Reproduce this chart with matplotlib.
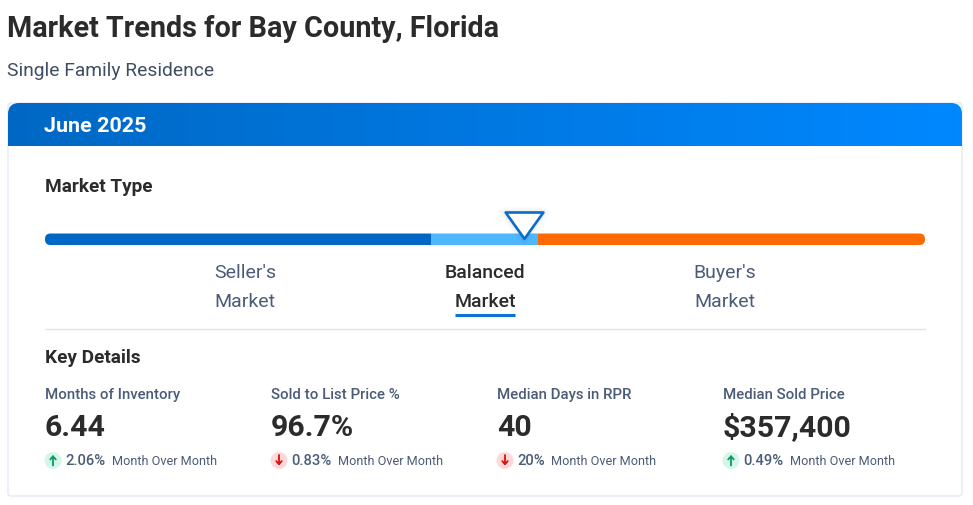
import numpy as np
import matplotlib
matplotlib.use('Agg')
import matplotlib.pyplot as plt
from matplotlib.colors import LinearSegmentedColormap
from matplotlib.markers import MarkerStyle
from matplotlib.patches import FancyBboxPatch, Circle
from matplotlib.path import Path

# market scale, 0-100 along the bar
segment_names = ["Seller's\nMarket", "Balanced\nMarket", "Buyer's\nMarket"]
segment_edges = [0, 43.9, 56.0, 100]
segment_colors = ['#0068c4', '#4db8ff', '#ff6a00']
segment_label_x = [245, 485, 725]
market_position = 54.4

metric_names = ['Months of Inventory', 'Sold to List Price %', 'Median Days in RPR', 'Median Sold Price']
metric_values = ['6.44', '96.7%', '40', '$357,400']
changes = ['2.06%', '0.83%', '20%', '0.49%']
directions = ['up', 'down', 'down', 'up']
metric_x = [45, 271, 497, 723]
month_offset = [67, 67, 54, 67]

DARK = '#2b2b2b'
SLATE = '#4b5c78'

plt.rcParams['font.family'] = ['Roboto', 'DejaVu Sans']


def px(size):
    # css pixels to points
    return size * 0.72


def set_limits(a):
    a.set_xlim(0, 973)
    a.set_ylim(505, -1)


fig = plt.figure(figsize=(9.73, 5.06), dpi=100)
ax = fig.add_axes([0, 0, 1, 1])
set_limits(ax)
ax.axis('off')

ax.text(7, 28, 'Market Trends for Bay County, Florida', fontsize=px(28.7), fontweight='bold',
        color=DARK, va='center')
ax.text(7, 70, 'Single Family Residence', fontsize=px(19.3), color='#3f4d63', va='center')

# card outline
card = FancyBboxPatch((8, 103), 954, 393, boxstyle='round,pad=0,rounding_size=3',
                      fc='white', ec='#e3e9f4', lw=1)
ax.add_patch(card)

# header with gradient
cmap = LinearSegmentedColormap.from_list('header', ['#0068c4', '#0088ff'])
grad = np.linspace(0, 1, 256).reshape(1, -1)
header = ax.imshow(grad, extent=(8, 962, 146, 103), cmap=cmap, aspect='auto', zorder=2)
clip = FancyBboxPatch((8, 103), 954, 70, boxstyle='round,pad=0,rounding_size=11',
                      transform=ax.transData, fc='none', ec='none')
ax.add_patch(clip)
header.set_clip_path(clip)
set_limits(ax)
ax.text(44, 125, 'June 2025', fontsize=px(21.5), fontweight='bold', color='white', va='center', zorder=3)

ax.text(45, 186, 'Market Type', fontsize=px(19), fontweight='bold', color=DARK, va='center')

# market bar on its own axes so the scale does the positions
bar_ax = fig.add_axes([45 / 973, 1 - 246 / 506, 880 / 973, 12 / 506])
bar_ax.set_xlim(0, 100)
bar_ax.set_ylim(0, 1)
bar_ax.axis('off')
bar_clip = FancyBboxPatch((45, 233.5), 880, 11.5, boxstyle='round,pad=0,rounding_size=5.5',
                          transform=ax.transData, fc='none', ec='none')
ax.add_patch(bar_clip)
lefts = segment_edges[:-1]
widths = np.diff(segment_edges)
bars = bar_ax.barh([0.5] * 3, widths, left=lefts, height=1, color=segment_colors, linewidth=0)
for b in bars:
    b.set_clip_path(bar_clip)

# pointer, tip on the market position
tri = Path([(-20, 0), (20, 0), (0, -28), (-20, 0)], closed=True)
for grow, alpha in [(8, 0.025), (5, 0.035), (3, 0.04)]:
    bar_ax.plot([market_position], [2.75], marker=tri, ms=39, mfc='none', mec='#555555',
                mew=grow, alpha=alpha, clip_on=False, zorder=4)
pointer = MarkerStyle(tri, joinstyle='round')
bar_ax.plot([market_position], [2.75], marker=pointer, ms=38, mfc='white', mec='#0a6cc8',
            mew=1.9, clip_on=False, zorder=5)

# labels under the bar
for i, name in enumerate(segment_names):
    top, bottom = name.split('\n')
    active = i == 1
    for y, word in zip([272, 301], [top, bottom]):
        ax.text(segment_label_x[i], y, word, ha='center', va='center', fontsize=px(19.5),
                color=DARK if active else SLATE, fontweight='medium' if active else 'normal')
ax.plot([455, 515], [314.5, 314.5], color='#0a74d0', lw=2.2, solid_capstyle='butt')
ax.plot([45, 925], [328.5, 328.5], color='#dfe3ea', lw=1)

ax.text(45, 357, 'Key Details', fontsize=px(19), fontweight='bold', color=DARK, va='center')

for x, name, value, change, way, off in zip(metric_x, metric_names, metric_values, changes, directions, month_offset):
    ax.text(x, 394, name, fontsize=px(15), color=SLATE, va='center', fontweight='medium')
    ax.text(x, 435.5, value, fontsize=px(30.3), fontweight='bold', color=DARK, va='baseline')
    if way == 'up':
        bg, fg, y0, y1 = '#d5f7ea', '#0a9a63', 465.5, 455
    else:
        bg, fg, y0, y1 = '#ffd9d9', '#d81010', 455, 465.5
    ax.add_patch(Circle((x + 8, 460.5), 8.5, fc=bg, ec='none'))
    ax.annotate('', xy=(x + 8, y1), xytext=(x + 8, y0),
                arrowprops=dict(arrowstyle='->,head_width=0.2,head_length=0.22', color=fg, lw=1.3,
                                shrinkA=0, shrinkB=0))
    ax.text(x + 20, 460.5, change, fontsize=px(14.8), color=SLATE, va='center', fontweight='medium')
    ax.text(x + off, 460.5, 'Month Over Month', fontsize=px(12.6), color=SLATE, va='center')

fig.savefig('out.png', dpi=100, facecolor='white')
